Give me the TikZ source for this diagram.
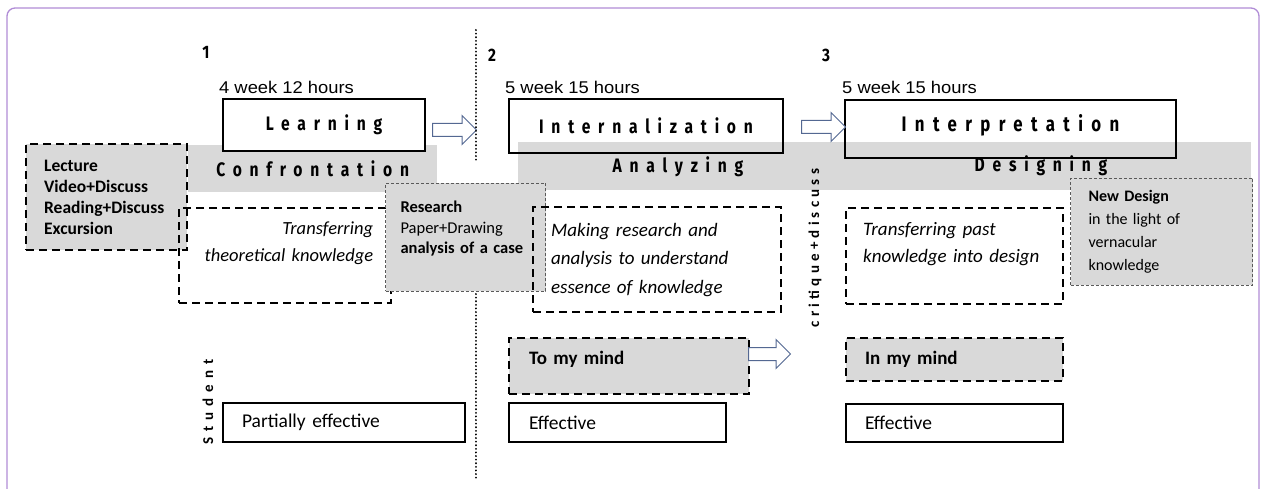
\documentclass[tikz,border=0pt]{standalone}
\usepackage{fontspec}
\setmainfont{Carlito}
\newfontfamily\arialfont[FakeStretch=1.08]{Liberation Sans}
\newfontfamily\headfont[FakeStretch=0.8,LetterSpace=40]{Fira Sans}
\newfontfamily\numfont[FakeStretch=0.85]{Fira Sans}
\newfontfamily\sidefont[LetterSpace=40]{Carlito}
\newfontfamily\critfont[LetterSpace=28]{Carlito}
\usepackage{tikz}
\usetikzlibrary{shapes.arrows,positioning}
\definecolor{framepurple}{RGB}{176,140,214}
\definecolor{greyfill}{RGB}{217,217,217}
\definecolor{arrowblue}{RGB}{84,104,146}
\definecolor{thindash}{RGB}{90,90,90}
\tikzset{
  base/.style={font=\fontsize{16}{19}\selectfont, inner sep=0pt, text=black},
  hours/.style={base, font=\arialfont\fontsize{17}{19}\selectfont, anchor=west},
  num/.style={base, font=\numfont\bfseries\fontsize{18}{20}\selectfont},
  head/.style={base, font=\headfont\bfseries\fontsize{19.5}{22}\selectfont},
  stage/.style={base, rectangle, draw=black, line width=2pt, anchor=north west},
  band/.style={rectangle, fill=greyfill, draw=none, anchor=north west, inner sep=0pt},
  dbox/.style={base, rectangle, draw=black, line width=2.2pt, dash pattern=on 8pt off 5pt, anchor=north west},
  thinbox/.style={base, rectangle, draw=thindash, fill=greyfill, line width=1pt, dash pattern=on 3pt off 2pt, anchor=north west},
  outbox/.style={base, rectangle, draw=black, line width=2pt, anchor=north west, align=left,
    font=\fontsize{19.5}{22}\selectfont},
  barrow/.style={single arrow, draw=arrowblue, fill=white, line width=1pt, inner xsep=0pt, inner ysep=6pt,
    single arrow head extend=8pt, single arrow head indent=0pt, anchor=west},
  dotline/.style={line width=2pt, dash pattern=on 0.1pt off 3.5pt, line cap=round},
}
\begin{document}
\begin{tikzpicture}[x=1pt,y=-1pt]
  \useasboundingbox (0,0) rectangle (1262,489);
  \draw[framepurple, line width=1.3pt, rounded corners=8pt] (7,8) rectangle (1259,505);
  % stage numbers and durations
  \node[num] (n1) at (206,52) {1};
  \node[num] (n2) at (492,55) {2};
  \node[num] (n3) at (826,55) {3};
  \node[hours] (h1) at (219,87) {4 week 12 hours};
  \node[hours] (h2) at (505,87) {5 week 15 hours};
  \node[hours] (h3) at (842,87) {5 week 15 hours};
  % grey bands
  \node[band,minimum width=249pt,minimum height=47pt] (conf) at (188,145) {};
  \node[head] (conftxt) at (conf.center) {Confrontation};
  \node[band,minimum width=733pt,minimum height=48pt] (band2) at (518,142) {};
  \node[head] (anatxt) at (678,167) {Analyzing};
  \node[head] (destxt) at (1041,166) {Designing};
  % stages
  \node[stage,fill=white,minimum width=202pt,minimum height=52pt] (learn) at (222,98) {\headfont\bfseries\fontsize{19.5}{22}\selectfont Learning};
  \node[stage,minimum width=274pt,minimum height=54pt] (intern) at (508,98) {\headfont\bfseries\fontsize{19.5}{22}\selectfont Internalization};
  \node[stage,minimum width=331pt,minimum height=58pt,text depth=13pt] (interp) at (844,99) {\headfont\bfseries\fontsize{21}{24}\selectfont Interpretation};
  \node[barrow,minimum height=44pt,minimum width=28pt] (a1) at (432,130) {};
  \node[barrow,minimum height=44pt,minimum width=28pt] (a2) at (801,127) {};
  % stage 1 boxes
  \node[dbox,fill=greyfill,minimum width=161pt,minimum height=106pt,inner xsep=18pt,text width=125pt,align=left,
    font=\bfseries\fontsize{17.5}{21}\selectfont] (lect) at (25,143) {Lecture\\Video+Discuss\\Reading+Discuss\\Excursion};
  \node[dbox,minimum width=212pt,minimum height=95pt,inner xsep=18pt,text width=176pt,align=right,
    font=\itshape\fontsize{18.5}{27}\selectfont] (trans) at (178,207) {Transferring\\theoretical knowledge\\\mbox{}};
  \node[thinbox,minimum width=160pt,minimum height=108pt,inner xsep=15pt,text width=130pt,align=left,
    font=\fontsize{16.5}{20.5}\selectfont] (res) at (385,183) {\textbf{Research}\\Paper+Drawing\\\textbf{analysis of a case}\\\mbox{}};
  % stage 2 boxes
  \node[dbox,minimum width=248pt,minimum height=105pt,inner xsep=18pt,text width=212pt,align=left,
    font=\itshape\fontsize{19}{28.5}\selectfont] (make) at (532,206) {Making research and\\analysis to understand\\essence of knowledge};
  \node[dbox,fill=greyfill,minimum width=240pt,minimum height=56pt,inner xsep=20pt,text width=200pt,align=left,
    text depth=16pt,font=\bfseries\fontsize{19}{22}\selectfont] (tomind) at (508,337) {To my mind};
  \node[barrow,minimum height=42pt,minimum width=27pt] (a3) at (748,354) {};
  % stage 3 boxes
  \node[dbox,minimum width=217pt,minimum height=96pt,inner xsep=17pt,text width=183pt,align=left,
    font=\itshape\fontsize{19}{27}\selectfont] (past) at (845,207) {Transferring past\\knowledge into design\\\mbox{}};
  \node[thinbox,minimum width=182pt,minimum height=107pt,inner xsep=18pt,text width=146pt,align=left,
    font=\fontsize{16}{23}\selectfont] (newd) at (1070,178) {\textbf{New Design}\\in the light of\\vernacular\\knowledge};
  \node[dbox,fill=greyfill,minimum width=217pt,minimum height=43pt,inner xsep=19pt,text width=179pt,align=left,
    font=\bfseries\fontsize{19}{22}\selectfont] (inmind) at (845,337) {In my mind};
  \node[base,rotate=90,font=\critfont\bfseries\fontsize{15}{17}\selectfont] (crit) at (815,248) {critique+discuss};
  % student results
  \node[base,rotate=90,font=\sidefont\bfseries\fontsize{15}{17}\selectfont] (stud) at (208,402) {Student};
  \node[outbox,minimum width=242pt,minimum height=39pt,inner xsep=19pt,text width=204pt] (eff1) at (222,402) {Partially effective};
  \node[outbox,minimum width=217pt,minimum height=39pt,inner xsep=20pt,text width=177pt] (eff2) at (508,402) {Effective};
  \node[outbox,minimum width=217pt,minimum height=38pt,inner xsep=19pt,text width=179pt] (eff3) at (845,403) {Effective};
  % divider
  \coordinate (dtop) at (476,30);
  \coordinate (dmid) at (476,160);
  \coordinate (dlow) at (476,294);
  \coordinate (dbot) at (476,480);
  \draw[dotline] (dtop) -- (dmid);
  \draw[dotline] (dlow) -- (dbot);
\end{tikzpicture}
\end{document}
